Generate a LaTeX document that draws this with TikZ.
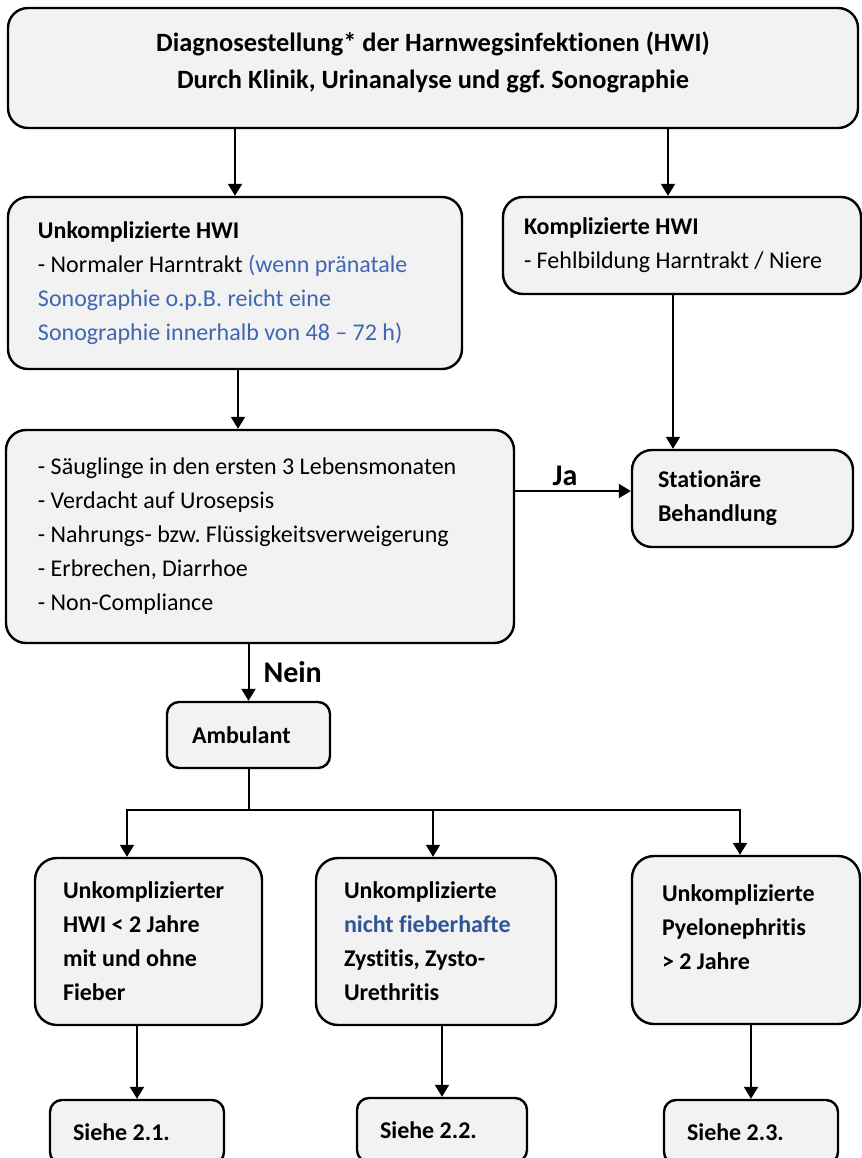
\documentclass[tikz,border=0pt]{standalone}
\usepackage{fontspec}
\setmainfont{Carlito}[Ligatures=NoCommon]
\usetikzlibrary{arrows.meta}
\definecolor{BoxGray}{RGB}{242,242,242}
\definecolor{NoteBlue}{RGB}{62,103,178}
\definecolor{DarkBlue}{RGB}{47,85,151}
\frenchspacing

\begin{document}
\begin{tikzpicture}[
    x=0.5pt, y=-0.5pt,
    box/.style={
        draw=black, line width=1.2pt, fill=BoxGray, rounded corners=10pt,
        align=left, inner ysep=0pt,
        font=\fontsize{12}{17}\selectfont,
        execute at begin node={\spaceskip=0.226em\xspaceskip=0.226em\relax}
    },
    boldbox/.style={
        box, font=\bfseries\fontsize{12}{17}\selectfont
    },
    smallbox/.style={
        boldbox, rounded corners=6pt
    },
    arr/.style={-{Triangle[length=6pt,width=7pt]}, line width=1pt},
    conn/.style={line width=1pt},
    tag/.style={font=\bfseries\fontsize{15}{17}\selectfont, inner sep=2pt},
]
\useasboundingbox (0,0) rectangle (862,1158);

%% Diagnosis
\node[boldbox, align=center, text width=405pt, inner xsep=10pt, minimum height=60pt,
      text depth=26.5pt, font=\bfseries\fontsize{13.2}{18.5}\selectfont] (diag) at (433,68)
    {Diagnosestellung* der Harnwegsinfektionen (HWI)\\
     Durch Klinik, Urinanalyse und ggf. Sonographie};

%% Uncomplicated / complicated
\node[box, text width=197pt, inner xsep=15pt, minimum height=86pt] (unk) at (235,283)
    {\textbf{Unkomplizierte HWI}\\
     - Normaler Harntrakt \textcolor{NoteBlue}{(wenn pränatale}\\
     \textcolor{NoteBlue}{Sonographie o.p.B. reicht eine}\\
     \textcolor{NoteBlue}{Sonographie innerhalb von 48 – 72 h)}};
\node[box, text width=158pt, inner xsep=10.5pt, minimum height=48.5pt] (kom) at (682,245.5)
    {\textbf{Komplizierte HWI}\\
     - Fehlbildung Harntrakt / Niere};

\draw[arr] (diag.south -| unk.north) -- (unk.north);
\coordinate (komin) at ([xshift=-7pt]kom.north);
\draw[arr] (diag.south -| komin) -- (komin);

%% Criteria for inpatient care
\node[box, text width=222pt, inner xsep=16pt, minimum height=106.5pt] (krit) at (260,536.5)
    {- Säuglinge in den ersten 3 Lebensmonaten\\
     - Verdacht auf Urosepsis\\
     - Nahrungs- bzw. Flüssigkeitsverweigerung\\
     - Erbrechen, Diarrhoe\\
     - Non-Compliance};
\node[boldbox, text width=84.5pt, inner xsep=13pt, minimum height=48.5pt] (stat) at (742.5,498.5)
    {Stationäre\\Behandlung};

\coordinate (unkout) at ([xshift=1.5pt]unk.south);
\draw[arr] (unkout) -- (unkout |- krit.north);
\coordinate (komout) at ([xshift=-4.5pt]kom.south);
\draw[arr] (komout) -- (komout |- stat.north);
\coordinate (jain) at ([yshift=3.75pt]stat.west);
\draw[arr] (jain -| krit.east) -- node[tag, above, xshift=-4pt] (ja) {Ja} (jain);

%% Outpatient
\node[smallbox, text width=56.5pt, inner xsep=12.5pt, minimum height=33pt] (amb) at (248.5,735)
    {Ambulant};
\draw[arr] (krit.south -| amb.north) -- node[tag, right=5pt] (nein) {Nein} (amb.north);

%% Three groups
\node[boldbox, rounded corners=11pt, text width=85.5pt, inner xsep=14pt, minimum height=83.5pt] (b1) at (148.5,941.5)
    {Unkomplizierter\\HWI < 2 Jahre\\mit und ohne\\Fieber};
\node[boldbox, rounded corners=11pt, text width=92pt, inner xsep=14pt, minimum height=83.5pt] (b2) at (436,941.5)
    {Unkomplizierte\\\textcolor{DarkBlue}{nicht fieberhafte}\\Zystitis, Zysto-\\Urethritis};
\node[boldbox, rounded corners=11pt, text width=84pt, inner xsep=15pt, minimum height=84pt, text depth=47pt] (b3) at (746,940)
    {Unkomplizierte\\Pyelonephritis\\> 2 Jahre};

\coordinate (split) at ([yshift=-20.5pt]amb.south);
\coordinate (t1) at ([xshift=-10.75pt]b1.north);
\coordinate (t2) at ([xshift=-1.5pt]b2.north);
\coordinate (t3) at ([xshift=-3pt]b3.north);
\draw[conn] (amb.south) -- (split);
\draw[arr] (split) -| (t1);
\draw[arr] (split) -| (t3);
\draw[arr] (split -| t2) -- (t2);

%% References
\node[smallbox, text width=64pt, inner xsep=11.5pt, minimum height=32pt] (s1) at (137,1132) {Siehe 2.1.};
\node[smallbox, text width=62pt, inner xsep=11.5pt, minimum height=32pt] (s2) at (442,1130) {Siehe 2.2.};
\node[smallbox, text width=64pt, inner xsep=11.5pt, minimum height=32pt] (s3) at (751,1132) {Siehe 2.3.};

\draw[arr] (b1.south -| s1.north) -- (s1.north);
\draw[arr] (b2.south -| s2.north) -- (s2.north);
\draw[arr] (b3.south -| s3.north) -- (s3.north);

\end{tikzpicture}
\end{document}
